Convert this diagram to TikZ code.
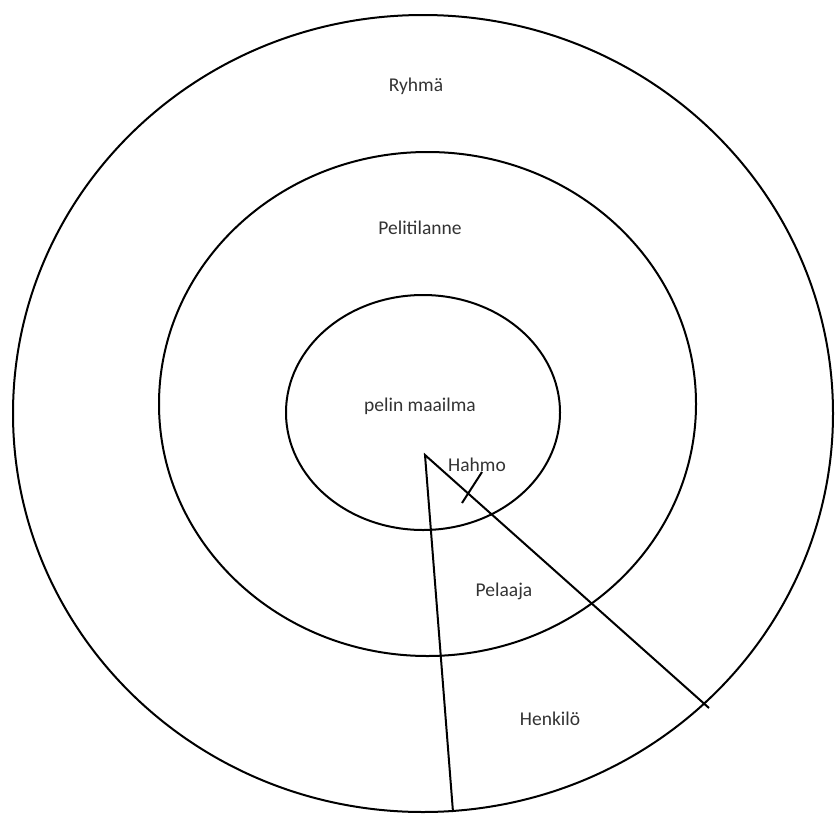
\documentclass[tikz,border=0pt]{standalone}
\usepackage{fontspec}
\setmainfont{Carlito}
\usetikzlibrary{shapes.geometric}
\begin{document}
\begin{tikzpicture}[x=1pt,y=-1pt,
  ring/.style={draw=black,line width=2pt},
  ray/.style={draw=black,line width=2pt},
  lbl/.style={font=\fontsize{19.5}{22}\selectfont,text=black!80}]
\useasboundingbox (0,0) rectangle (835,814);
\node[ring,ellipse,minimum width=820,minimum height=797,inner sep=0] (outer) at (423,413.5) {};
\node[ring,ellipse,minimum width=537,minimum height=504,inner sep=0] (middle) at (427.5,404) {};
\node[ring,ellipse,minimum width=274,minimum height=235,inner sep=0] (inner) at (423,412.5) {};
\coordinate (apex) at (425,455);
\coordinate (e1) at (453,812);
\coordinate (e2) at (709,708);
\coordinate (t1) at (462,503);
\coordinate (t2) at (482,472);
\draw[ray] (e1) -- (apex) -- (e2);
\draw[ray] (t1) -- (t2);
\node[lbl] (ryhma) at (416,86) {Ryhmä};
\node[lbl] (peliti) at (420,228) {Pelitilanne};
\node[lbl] (maailma) at (420,406) {pelin maailma};
\node[lbl] (hahmo) at (477,465) {Hahmo};
\node[lbl] (pelaaja) at (504,591) {Pelaaja};
\node[lbl] (henkilo) at (550,719) {Henkilö};
\end{tikzpicture}
\end{document}
